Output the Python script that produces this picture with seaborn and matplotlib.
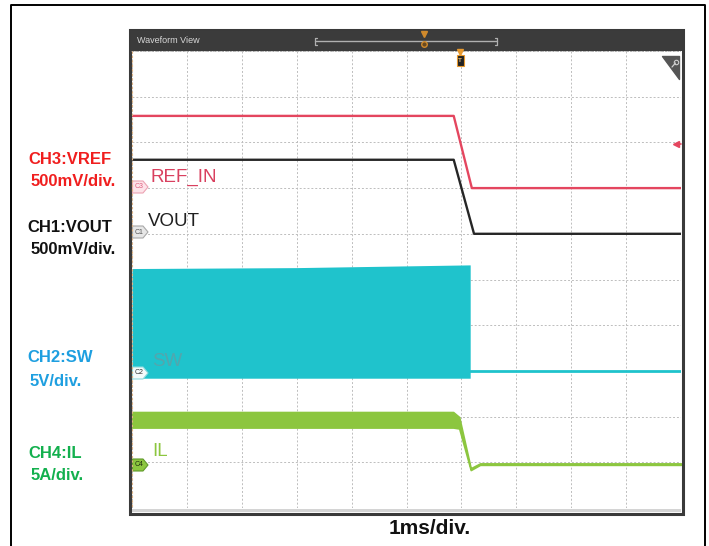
import numpy as np
import matplotlib
matplotlib.use("Agg")
import matplotlib.pyplot as plt
import matplotlib.patches as mpatches
import seaborn as sns

sns.set_style("white")
plt.rcParams['font.family'] = ['Liberation Sans', 'DejaVu Sans']

# scope traces, time in ms (1 ms/div)
t_ref = [0.0, 5.86, 6.19, 10.0]
v_ref = [0.79, 0.79, 0.0, 0.0]          # CH3 REF_IN [V]

t_out = [0.0, 5.86, 6.23, 10.0]
v_out = [0.81, 0.81, 0.0, 0.0]          # CH1 VOUT [V]

t_sw = [0.0, 3.0, 6.16]                 # CH2 SW switching envelope [V]
sw_hi = [11.2, 11.3, 11.6]
sw_lo = [-0.8, -0.8, -0.8]
t_sw_off = [6.16, 10.0]
v_sw_off = [0.0, 0.0]

t_il = [0.0, 5.85, 5.96, 6.17, 6.34, 10.0]   # CH4 inductor current [A]
il_hi = [5.7, 5.7, 5.15, -0.45, 0.08, 0.08]
il_lo = [4.0, 4.0, 3.9, -0.65, -0.08, -0.08]

# channel scales (per div) and ground offsets (div)
ch = {
    'CH3': dict(scale=0.5, off=7.0),
    'CH1': dict(scale=0.5, off=6.0),
    'CH2': dict(scale=5.0, off=3.0),
    'CH4': dict(scale=5.0, off=0.96),
}

def to_div(vals, c):
    return [ch[c]['off'] + v / ch[c]['scale'] for v in vals]

c_ref, c_out, c_sw, c_il = '#e4465f', '#262626', '#1fc3cc', '#8cc63f'

fig = plt.figure(figsize=(7.09, 5.46), dpi=100)
W, H = 709, 546

# scope screen
ax = fig.add_axes([132 / W, 38 / H, 549 / W, 457 / H])
ax.set_xlim(0, 10)
ax.set_ylim(0, 10)
ax.set_xticks(range(11))
ax.set_yticks(range(11))
ax.set_xticklabels([])
ax.set_yticklabels([])
ax.tick_params(length=0)
ax.grid(True, ls=(0, (2, 2)), color='#bdbdbd', lw=0.7)
for s in ax.spines.values():
    s.set_visible(False)

ax.fill_between(t_sw, to_div(sw_lo, 'CH2'), to_div(sw_hi, 'CH2'), color=c_sw, lw=0, zorder=3)
sns.lineplot(x=t_sw_off, y=to_div(v_sw_off, 'CH2'), ax=ax, color=c_sw, lw=2.0, zorder=3)

ax.fill_between(t_il, to_div(il_lo, 'CH4'), to_div(il_hi, 'CH4'), color=c_il, lw=1.2, ec=c_il, zorder=3)

sns.lineplot(x=t_ref, y=to_div(v_ref, 'CH3'), ax=ax, color=c_ref, lw=1.7, zorder=4)
sns.lineplot(x=t_out, y=to_div(v_out, 'CH1'), ax=ax, color=c_out, lw=1.7, zorder=4)
ax.set_xlabel('')
ax.set_ylabel('')

# overlay in pixel coordinates for the scope chrome and labels
fa = fig.add_axes([0, 0, 1, 1], zorder=5)
fa.set_xlim(0, W)
fa.set_ylim(H, 0)
fa.axis('off')

# outer frame
fa.plot([10.5, 10.5, 705, 705], [546, 5, 5, 546], color='black', lw=1.4)

# scope border and header
fa.add_patch(mpatches.Rectangle((131, 508.5), 550, 3, fc='#d4d4d4', ec='none'))
fa.add_patch(mpatches.Rectangle((129.5, 29.5), 553, 484, fc='none', ec='#3a3a3a', lw=2.2))
fa.add_patch(mpatches.Rectangle((130.5, 30.5), 551, 20, fc='#3b3b3b', ec='none'))
fa.plot([131, 681], [50.5, 50.5], color='#9a9a9a', lw=0.6, ls=(0, (1, 1)))
fa.plot([131.5, 131.5], [51, 508], color='#e0b483', lw=0.8, ls=(0, (2, 2)))
fa.text(137, 40.5, 'Waveform View', color='#d8d8d8', fontsize=6.5, va='center', ha='left')
fa.plot([315, 497], [41, 41], color='#b0b0b0', lw=1.0)
fa.plot([317, 315, 315, 317], [37.5, 37.5, 45, 45], color='#b0b0b0', lw=0.9)
fa.plot([495, 497, 497, 495], [37.5, 37.5, 45, 45], color='#b0b0b0', lw=0.9)
fa.plot([424], [33.5], marker='v', ms=4, color='#d08a2c', ls='none')
fa.plot([424], [44], marker='o', ms=4, mfc='#6a4a20', mec='#d08a2c', ls='none')

# trigger marker
fa.plot([460], [51.5], marker='v', ms=4, color='#e89a30', ls='none')
fa.add_patch(mpatches.Rectangle((457, 55), 6.5, 11, fc='#222222', ec='#e89a30', lw=0.8))
fa.text(460.2, 60.5, 'T', color='#f0c070', fontsize=4.5, ha='center', va='center', weight='bold')

# zoom triangle top right
fa.add_patch(mpatches.Polygon([(662, 56), (679, 56), (679, 79)], closed=True,
                              fc='#555555', ec='#555555', lw=1, joinstyle='round'))
fa.plot([672, 675.5], [67, 63], color='#cfcfcf', lw=0.9)
fa.plot([676.2], [62.2], marker='o', ms=3.2, mfc='none', mec='#cfcfcf', mew=0.8, ls='none')

# reference level arrow on the right
fa.plot([676], [144], marker='<', ms=5, color=c_ref, ls='none')
fa.plot([676, 681], [144, 144], color=c_ref, lw=1.2)

# channel badges
def badge(yc, txt, fc, ec, tc):
    pts = [(132.5, yc - 6), (143, yc - 6), (148, yc), (143, yc + 6), (132.5, yc + 6)]
    fa.add_patch(mpatches.Polygon(pts, closed=True, fc=fc, ec=ec, lw=0.8, joinstyle='round'))
    fa.text(139, yc, txt, fontsize=5, color=tc, ha='center', va='center')

badge(187, 'C3', '#fde3e9', '#eca3b3', '#e06080')
badge(232, 'C1', '#e6e6e6', '#a8a8a8', '#555555')
badge(373, 'C2', '#f4fbfb', '#8fdade', '#333333')
badge(465, 'C4', '#8cc63f', '#5f9a2a', '#1f2f10')

# trace names inside the screen
fa.text(151, 177, 'REF_IN', color='#d9405f', fontsize=13.5, ha='left', va='center')
fa.text(148, 221, 'VOUT', color='#202020', fontsize=13.5, ha='left', va='center')
fa.text(152, 362, 'SW', color='#5f9fa6', fontsize=13.5, ha='left', va='center', alpha=0.8)
fa.text(152, 451, 'IL', color=c_il, fontsize=13.5, ha='left', va='center')

# channel descriptions on the left
left = [
    ('CH3:VREF', 28, 159, '#f01e1e'),
    ('500mV/div.', 31, 182, '#f01e1e'),
    ('CH1:VOUT', 27, 227, '#111111'),
    ('500mV/div.', 31, 249, '#111111'),
    ('CH2:SW', 27, 358, '#1e9fe0'),
    ('5V/div.', 30, 381, '#1e9fe0'),
    ('CH4:IL', 28, 453, '#13b04e'),
    ('5A/div.', 31, 475, '#13b04e'),
]
for txt, x, y, col in left:
    fa.text(x, y, txt, color=col, fontsize=12, weight='bold', ha='left', va='center')

fa.text(430, 528, '1ms/div.', color='#111111', fontsize=15, weight='bold', ha='center', va='center')

fig.savefig('out.png', dpi=100)
